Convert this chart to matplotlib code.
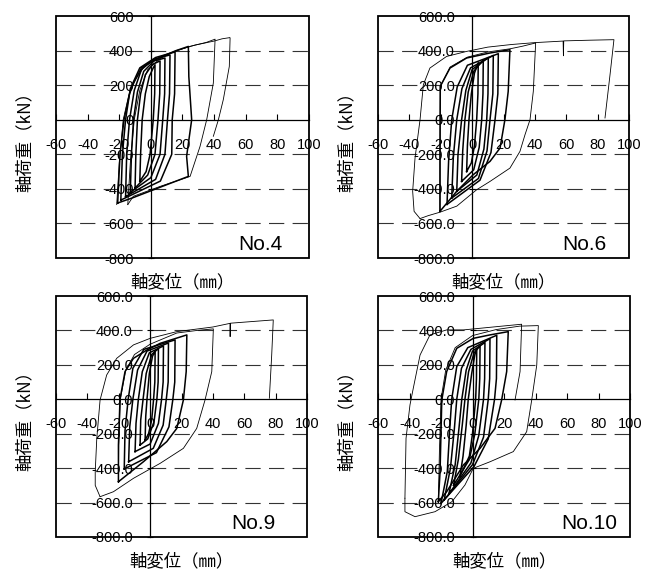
import matplotlib
matplotlib.use("Agg")
import matplotlib.pyplot as plt
from matplotlib.patches import Rectangle
from matplotlib.ticker import FormatStrFormatter

plt.rcParams["font.family"] = ["Liberation Sans", "Noto Sans CJK JP", "DejaVu Sans"]
plt.rcParams["axes.unicode_minus"] = False
plt.rcParams["lines.scale_dashes"] = False

# ---- data: hysteresis loops (displacement mm, load kN) ----
X_TICKS = [-60, -40, -20, 0, 20, 40, 60, 80, 100]
Y_TICKS = [-800, -600, -400, -200, 0, 200, 400, 600]
GRID_Y = [400, 200, -200, -400, -600]
X_LABEL = "軸変位（㎜）"
Y_LABEL = "軸荷重（kN）"

NO4_BOLD = [
    [(-7, -357), (-6.5, -200), (-5.5, 0), (-3.5, 150), (-1, 250), (1.5, 300), (2.6, 318), (2.4, 150),
     (1.5, 0), (-0.5, -200), (-3, -300), (-7, -357)],
    [(-10, -395), (-9.5, -200), (-8.5, 0), (-6.5, 150), (-3.5, 260), (1, 320), (5.8, 340), (5.6, 150),
     (4.5, 0), (2.6, -200), (-2, -320), (-10, -395)],
    [(-13, -420), (-12.3, -200), (-11, 0), (-8.5, 160), (-4.5, 280), (2, 340), (8.9, 357), (8.7, 150),
     (7.5, 0), (5.8, -200), (0, -335), (-13, -420)],
    [(-16, -445), (-15.3, -200), (-13.5, 0), (-10.5, 170), (-6, 290), (2, 350), (12.1, 375), (11.8, 150),
     (10.5, 0), (8.9, -200), (3, -345), (-16, -445)],
    [(-19, -465), (-18, -200), (-16, 0), (-13, 180), (-7, 300), (3, 360), (15.3, 392), (15, 150),
     (13.5, 0), (13.2, -200), (6, -355), (-19, -465)],
    [(-21, -482), (-19.5, -200), (-17, 0), (-13.5, 150), (-11, 210), (-6, 300), (0, 335), (8, 370),
     (16, 400), (23.7, 424), (24, 250), (25.8, 0), (22.6, -212), (23.7, -328), (6, -390), (-11, -450),
     (-21, -482)],
]
NO4_THIN = [
    [(-21.6, -491), (-20, -250), (-17.5, 0), (-14, 140), (-10, 230), (-4, 310), (3, 345), (12, 385),
     (25, 425), (35, 447), (40.6, 466), (39.5, 212), (35.3, 0), (31.1, -154), (24.8, -328), (5.8, -386),
     (-11.1, -443), (-14.6, -491)],
    [(-14.6, -491), (-13, -250), (-10.5, 0), (-7, 170), (-2, 290), (6, 355), (16, 400), (28, 432),
     (40, 455), (45, 468), (50, 475), (50.1, 472), (49.6, 308), (45.8, 116), (42.7, 0), (39.5, -96)],
]

NO6_BOLD = [
    [(-3.5, -300), (-3, -150), (-2, 0), (-0.5, 150), (1.5, 270), (3.9, 330), (3.7, 150), (2.9, 0),
     (1.5, -150), (-0.5, -250), (-3.5, -300)],
    [(-6.7, -357), (-6, -180), (-4.6, 0), (-2.5, 160), (1, 280), (7.1, 345), (6.9, 150), (6.1, 0),
     (4.5, -160), (1, -290), (-6.7, -357)],
    [(-9.8, -414), (-9, -200), (-6.7, 0), (-4, 170), (0, 290), (10.3, 360), (10.1, 150), (9.3, 0),
     (7.5, -170), (3, -320), (-9.8, -414)],
    [(-13, -453), (-12, -220), (-9.8, 0), (-6.5, 180), (-1, 300), (13.5, 372), (13.2, 150), (11.4, 0),
     (9.5, -180), (4, -340), (-13, -453)],
    [(-16, -490), (-15, -240), (-13, 0), (-9.5, 190), (-3, 315), (16.7, 382), (16.4, 150), (14.6, 0),
     (12, -190), (5, -350), (-16, -490)],
    [(-20.5, -530), (-20.5, -200), (-20.3, 193), (-14.1, 299), (-3.5, 357), (11.4, 386), (24.1, 405),
     (23, 164), (20.9, 0), (17.8, -164), (11.4, -241), (0.7, -318), (-9.8, -414), (-20.5, -530)],
]
NO6_THIN = [
    [(-20.5, -530), (-20.3, 193), (-14, 305), (-3, 362), (10, 392), (24, 410), (32, 425), (40.5, 444),
     (39, 164), (36.9, 0), (33.7, -87), (30.5, -183), (24.1, -280), (11.4, -357), (2.9, -405),
     (-9.8, -500), (-20.5, -535), (-28, -555), (-33.2, -572)],
    [(-33.2, -572), (-37, -530), (-37.9, -414), (-36.4, -222), (-33.2, 0), (-31.1, 202), (-26.9, 299),
     (-16.3, 366), (-3.6, 395), (10, 420), (25, 435), (40, 446), (58, 455), (58.2, 370), (58.4, 456),
     (75, 460), (90.4, 463), (87.9, 260), (84.7, 10)],
]

NO9_BOLD = [
    [(-3.2, -237), (-2.8, -100), (-2, 0), (-0.5, 150), (1.5, 250), (3.2, 280), (3, 100), (2.2, 0),
     (1, -120), (-1, -200), (-3.2, -237)],
    [(-6.4, -266), (-6, -120), (-4.5, 0), (-2.5, 150), (1, 260), (5.3, 295), (5.1, 100), (4.3, 0),
     (2.5, -130), (-1.5, -230), (-6.4, -266)],
    [(-9.6, -304), (-9, -140), (-7.5, 0), (-5, 160), (-0.5, 270), (8.5, 310), (8.3, 100), (7.3, 0),
     (5.3, -140), (0, -260), (-9.6, -304)],
    [(-13.7, -363), (-13, -160), (-11, 0), (-8, 170), (-2, 280), (11.7, 327), (11.5, 100), (10.3, 0),
     (8.3, -150), (2, -285), (-13.7, -363)],
    [(-16.5, -405), (-16, -180), (-14, 0), (-11, 180), (-4, 290), (15.9, 345), (15.7, 100), (14.5, 0),
     (12, -160), (4, -310), (-16.5, -405)],
    [(-20.2, -479), (-20.2, -266), (-19.2, 0), (-16, 161), (-10.6, 238), (-2.1, 286), (6.4, 325),
     (23.4, 374), (23, 161), (21.2, -4), (17, -169), (10.6, -246), (-4.3, -363), (-20.2, -479)],
]
NO9_THIN = [
    [(-20.2, -479), (-20, -266), (-19, 0), (-15.5, 170), (-10, 260), (0, 320), (17, 385), (30, 400),
     (40.3, 409), (39.3, 161), (35, -4), (29.7, -169), (21.2, -285), (6.4, -372), (-10.6, -459),
     (-23.4, -537), (-31.9, -566)],
    [(-31.9, -566), (-35, -500), (-35, -421), (-34, -227), (-31.9, -4), (-27.7, 141), (-21.3, 238),
     (-10.6, 316), (0, 354), (17, 393), (40, 420), (50.9, 441), (51, 364), (51.2, 442), (78.5, 461),
     (77.5, 257), (76, 6)],
]

NO10_BOLD = [
    [(-8, -450), (-6, -330), (-4, -150), (-2.7, 0), (-0.5, 150), (1.5, 260), (2.7, 295), (2.5, 120),
     (2, 0), (0, -200), (-2, -330), (-8, -450)],
    [(-12, -500), (-9, -350), (-6.5, -150), (-4.8, 0), (-2.5, 160), (1, 270), (4.8, 310), (4.6, 120),
     (4, 0), (1.5, -200), (-2, -350), (-12, -500)],
    [(-15, -550), (-11, -380), (-8.5, -160), (-6.8, 0), (-4, 170), (0, 280), (7.9, 330), (7.7, 120),
     (7, 0), (4, -210), (-1, -370), (-15, -550)],
    [(-18, -585), (-14, -400), (-11.5, -170), (-10, 0), (-7, 180), (-1, 290), (11.1, 352), (10.9, 120),
     (10, 0), (7, -220), (0, -380), (-18, -585)],
    [(-20, -605), (-16, -420), (-14.5, -180), (-13.2, 0), (-10, 190), (-3, 300), (15.4, 372),
     (15.2, 120), (14, 0), (10, -230), (1, -390), (-20, -605)],
    [(-21.7, -595), (-20.6, -421), (-19.5, -4), (-16.4, 161), (-10, 296), (0.5, 354), (11.1, 374),
     (22.7, 393), (21.7, 161), (18.5, -4), (14.3, -169), (4.8, -285), (-5.8, -382), (-16.4, -537),
     (-21.7, -595)],
]
NO10_THIN = [
    [(-21.7, -595), (-21, -300), (-20, 0), (-17, 170), (-11, 300), (0, 370), (15, 405), (30, 425),
     (41.8, 428), (40.8, 199), (37.6, -4), (34.4, -188), (25.9, -304), (11.1, -363), (0.5, -401),
     (-4.8, -498), (-13.1, -595), (-23.8, -653), (-36.5, -682), (-42.9, -653), (-42.9, -575)],
    [(-42.9, -575), (-42.2, -227), (-39.7, -33), (-37.6, 64), (-33.3, 257), (-27, 374), (-16.4, 403),
     (-5.8, 403), (15.4, 422), (31.2, 436), (30.2, 161), (27, -4)],
]

PANELS = [
    ("No.4", NO4_BOLD, NO4_THIN, "%d", [56 / 654, 1 - 258 / 570, 253 / 654, 242 / 570], 0.897),
    ("No.6", NO6_BOLD, NO6_THIN, "%.1f", [378 / 654, 1 - 258 / 570, 251 / 654, 242 / 570], 0.912),
    ("No.9", NO9_BOLD, NO9_THIN, "%.1f", [56 / 654, 1 - 537 / 570, 251 / 654, 241 / 570], 0.873),
    ("No.10", NO10_BOLD, NO10_THIN, "%.1f", [378 / 654, 1 - 537 / 570, 252 / 654, 241 / 570], 0.948),
]

fig = plt.figure(figsize=(6.54, 5.70), dpi=100)

for tag, bold, thin, fmt, rect, tag_x in PANELS:
    ax = fig.add_axes(rect)
    ax.set_xlim(-60, 100)
    ax.set_ylim(-800, 600)

    for y in GRID_Y:
        ax.axhline(y, color="#333333", lw=0.8, dashes=(11, 6), zorder=1)

    for loop in bold:
        xs, ys = zip(*loop)
        ax.plot(xs, ys, color="black", lw=1.1, solid_joinstyle="round", zorder=3)
    for loop in thin:
        xs, ys = zip(*loop)
        ax.plot(xs, ys, color="black", lw=0.6, solid_joinstyle="round", zorder=3)

    # axes through the origin, frame drawn separately
    ax.spines["left"].set_position("zero")
    ax.spines["bottom"].set_position("zero")
    ax.spines["top"].set_visible(False)
    ax.spines["right"].set_visible(False)
    for s in ("left", "bottom"):
        ax.spines[s].set_linewidth(0.9)
        ax.spines[s].set_zorder(2)
    ax.add_patch(Rectangle((0, 0), 1, 1, transform=ax.transAxes, fill=False,
                           lw=1.3, edgecolor="black", clip_on=False, zorder=5))

    ax.set_xticks(X_TICKS)
    ax.set_yticks(Y_TICKS)
    ax.yaxis.set_major_formatter(FormatStrFormatter(fmt))
    ax.tick_params(axis="x", direction="in", length=4, width=0.8, pad=13, labelsize=10.5)
    ax.tick_params(axis="y", direction="inout", length=5, width=0.8, pad=10, labelsize=10.5)

    ax.text(tag_x, 0.035, tag, transform=ax.transAxes, ha="right", va="baseline",
            fontsize=15, family=["Liberation Sans"])
    ax.text(0.5, -0.1, X_LABEL, transform=ax.transAxes, ha="center", va="center",
            fontsize=12.5, family=["Noto Sans CJK JP", "DejaVu Sans"])
    ax.text(-0.125, 0.5, Y_LABEL, transform=ax.transAxes, ha="center", va="center",
            rotation=90, fontsize=12.5, family=["Noto Sans CJK JP", "DejaVu Sans"])

fig.savefig("out.png", dpi=100)
